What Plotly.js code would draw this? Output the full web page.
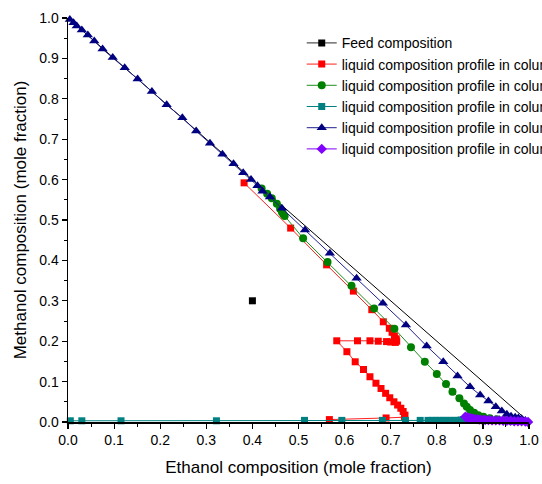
<!DOCTYPE html>
<html>
<head>
<meta charset="utf-8">
<script src="https://cdn.plot.ly/plotly-3.0.1.min.js"></script>
<style>html,body{margin:0;padding:0;background:#fff;}#chart{width:542px;height:484px;}</style>
</head>
<body>
<div id="chart"></div>
<script>
// Feed point
const feedX = [0.40];
const feedY = [0.30];

// Diagonal reference line (x + y = 1)
const diagX = [0.0, 1.0];
const diagY = [1.0, 0.0];

// Profile 1 (red squares)
const redX = [0.382,0.483,0.561,0.619,0.659,0.684,0.697,0.703,0.708,0.712,0.713,0.710,0.700,0.691,0.673,0.655,0.628,0.583,0.605,0.623,0.641,0.655,0.668,0.679,0.689,0.698,0.707,0.715,0.722,0.727,0.731,0.730,0.690,0.567];
const redY = [0.592,0.480,0.389,0.324,0.278,0.248,0.232,0.222,0.213,0.206,0.200,0.197,0.198,0.199,0.200,0.201,0.201,0.201,0.174,0.149,0.130,0.112,0.096,0.083,0.071,0.060,0.050,0.042,0.034,0.026,0.017,0.012,0.010,0.006];

// Profile 2 (green circles)
const greenX = [0.420,0.432,0.442,0.453,0.460,0.464,0.467,0.470,0.510,0.563,0.615,0.664,0.708,0.744,0.774,0.800,0.820,0.834,0.849,0.859,0.865,0.872,0.881,0.890,0.901,0.915,0.930,0.945,0.960];
const greenY = [0.578,0.565,0.554,0.540,0.528,0.520,0.514,0.510,0.455,0.396,0.337,0.281,0.231,0.185,0.149,0.119,0.094,0.075,0.059,0.046,0.038,0.030,0.023,0.017,0.013,0.009,0.007,0.005,0.003];

// Profile 3 (teal squares)
const tealX = [0.005,0.030,0.115,0.322,0.513,0.594,0.682,0.732,0.764,0.781,0.790,0.798,0.806,0.814,0.822,0.830,0.838,0.846,0.853,0.858];
const tealY = [0.003,0.003,0.003,0.003,0.004,0.004,0.004,0.004,0.004,0.004,0.004,0.004,0.004,0.004,0.004,0.004,0.004,0.004,0.005,0.006];

// Profile 4 (navy triangles)
const blueX = [0.004,0.012,0.019,0.030,0.043,0.057,0.075,0.097,0.123,0.151,0.182,0.214,0.248,0.278,0.308,0.335,0.359,0.380,0.397,0.411,0.422,0.438,0.464,0.514,0.568,0.626,0.683,0.733,0.778,0.814,0.845,0.872,0.894,0.912,0.928,0.941,0.952,0.961,0.970,0.977,0.984,0.992];
const blueY = [0.996,0.988,0.980,0.970,0.958,0.943,0.923,0.902,0.877,0.849,0.818,0.785,0.753,0.720,0.690,0.663,0.639,0.617,0.600,0.585,0.571,0.557,0.529,0.475,0.418,0.356,0.294,0.240,0.188,0.149,0.114,0.087,0.067,0.052,0.038,0.027,0.019,0.014,0.012,0.010,0.008,0.004];

// Profile 5 (purple diamonds)
const purpleX = [0.862,0.866,0.870,0.875,0.880,0.886,0.892,0.898,0.905,0.912,0.920,0.928,0.936,0.944,0.952,0.960,0.968,0.976,0.984,0.992,0.998];
const purpleY = [0.013,0.011,0.010,0.009,0.008,0.007,0.006,0.006,0.005,0.005,0.004,0.004,0.004,0.003,0.003,0.003,0.002,0.002,0.002,0.001,0.000];

const names = [
  "Feed composition",
  "liquid composition profile in column 1",
  "liquid composition profile in column 2",
  "liquid composition profile in column 3",
  "liquid composition profile in column 4",
  "liquid composition profile in column 5"
];
const tickVals = [0,0.1,0.2,0.3,0.4,0.5,0.6,0.7,0.8,0.9,1.0];
const tickText = ["0.0","0.1","0.2","0.3","0.4","0.5","0.6","0.7","0.8","0.9","1.0"];

const traces = [
  {x: diagX, y: diagY, mode: 'lines', line: {color: '#000', width: 1}, showlegend: false, hoverinfo: 'skip'},
  {x: feedX, y: feedY, name: names[0], mode: 'lines+markers', line: {color: '#555', width: 1.2}, marker: {symbol: 'square', color: '#000', size: 7}},
  {x: redX, y: redY, name: names[1], mode: 'lines+markers', line: {color: '#ff2020', width: 1}, marker: {symbol: 'square', color: '#ff0000', size: 7}},
  {x: greenX, y: greenY, name: names[2], mode: 'lines+markers', line: {color: '#1f8f1f', width: 1}, marker: {symbol: 'circle', color: '#008000', size: 8}},
  {x: tealX, y: tealY, name: names[3], mode: 'lines+markers', line: {color: '#008080', width: 1}, marker: {symbol: 'square', color: '#008080', size: 7}},
  {x: blueX, y: blueY, name: names[4], mode: 'lines+markers', line: {color: '#202090', width: 1}, marker: {symbol: 'triangle-up', color: '#000080', size: 9}},
  {x: purpleX, y: purpleY, name: names[5], mode: 'lines+markers', line: {color: '#8000ff', width: 1}, marker: {symbol: 'diamond', color: '#8000ff', size: 8}}
];
traces.forEach(t => { t.cliponaxis = false; });

const axisCommon = {
  range: [0, 1],
  tickvals: tickVals,
  ticktext: tickText,
  ticks: 'outside',
  ticklen: 5,
  tickwidth: 1.2,
  tickcolor: '#000',
  showline: true,
  linecolor: '#000',
  linewidth: 1.5,
  showgrid: false,
  zeroline: false,
  automargin: false,
  tickfont: {family: 'Liberation Sans, Arial, sans-serif', size: 14, color: '#000'},
  minor: {tickvals: [0.05,0.15,0.25,0.35,0.45,0.55,0.65,0.75,0.85,0.95], ticks: 'outside', ticklen: 3, tickwidth: 1, tickcolor: '#000', showgrid: false}
};

const layout = {
  width: 542,
  height: 484,
  margin: {l: 68, r: 13, t: 18, b: 62, autoexpand: false},
  paper_bgcolor: '#fff',
  plot_bgcolor: '#fff',
  showlegend: true,
  legend: {
    x: 0.507, y: 0.977, xanchor: 'left', yanchor: 'top',
    bgcolor: 'rgba(0,0,0,0)', borderwidth: 0,
    font: {family: 'Liberation Sans, Arial, sans-serif', size: 14, color: '#000'},
    tracegroupgap: 0
  },
  xaxis: Object.assign({}, axisCommon, {
    title: {text: 'Ethanol composition (mole fraction)', font: {family: 'Liberation Sans, Arial, sans-serif', size: 17, color: '#000'}, standoff: 14}
  }),
  yaxis: Object.assign({}, axisCommon, {
    title: {text: 'Methanol composition (mole fraction)', font: {family: 'Liberation Sans, Arial, sans-serif', size: 17, color: '#000'}, standoff: 8}
  })
};

Plotly.newPlot('chart', traces, layout, {displayModeBar: false, staticPlot: true});
</script>
</body>
</html>
